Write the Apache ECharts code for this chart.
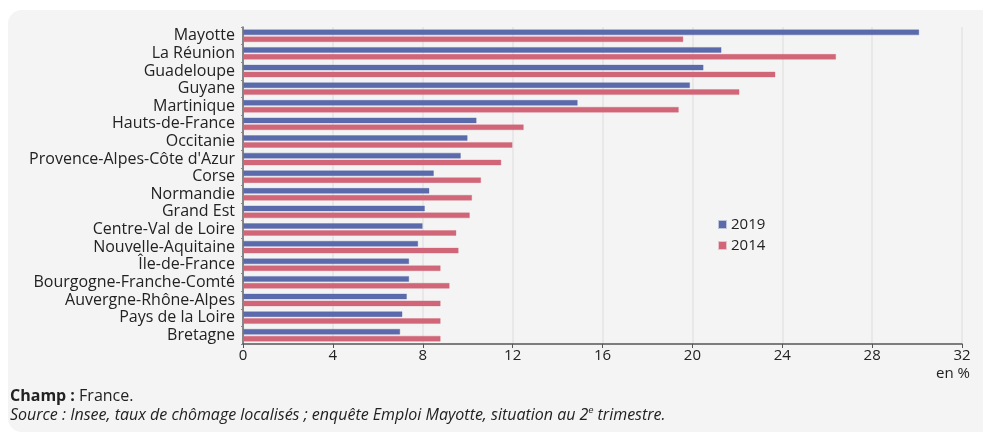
<!DOCTYPE html>
<html>
<head>
<meta charset="utf-8">
<script src="https://cdn.jsdelivr.net/npm/echarts@6/dist/echarts.min.js"></script>
<style>
  html, body { margin: 0; padding: 0; background: #fff; }
  #chart { width: 983px; height: 436px; }
</style>
</head>
<body>
<div id="chart"></div>
<script>
  const regions = [
    'Mayotte', 'La Réunion', 'Guadeloupe', 'Guyane', 'Martinique',
    'Hauts-de-France', 'Occitanie', "Provence-Alpes-Côte d'Azur", 'Corse',
    'Normandie', 'Grand Est', 'Centre-Val de Loire', 'Nouvelle-Aquitaine',
    'Île-de-France', 'Bourgogne-Franche-Comté', 'Auvergne-Rhône-Alpes',
    'Pays de la Loire', 'Bretagne'
  ];
  const rate2019 = [30.1, 21.3, 20.5, 19.9, 14.9, 10.4, 10.0, 9.7, 8.5, 8.3, 8.1, 8.0, 7.8, 7.4, 7.4, 7.3, 7.1, 7.0];
  const rate2014 = [19.6, 26.4, 23.7, 22.1, 19.4, 12.5, 12.0, 11.5, 10.6, 10.2, 10.1, 9.5, 9.6, 8.8, 9.2, 8.8, 8.8, 8.8];

  const font = '"Open Sans", "Noto Sans", sans-serif';
  const chart = echarts.init(document.getElementById('chart'));

  chart.setOption({
    animation: false,
    textStyle: { fontFamily: font },
    graphic: [
      {
        type: 'rect',
        z: -10,
        shape: { x: 8, y: 10, width: 990, height: 422, r: 14 },
        style: { fill: '#f4f4f4' }
      },
      {
        type: 'text',
        left: 10,
        top: 388,
        style: {
          text: '{b|Champ :} France.',
          font: '16px ' + font,
          fill: '#222',
          rich: { b: { fontWeight: 'bold', fontSize: 16, fontFamily: font } }
        }
      },
      {
        type: 'text',
        left: 10,
        top: 406,
        style: {
          text: 'Source : Insee, taux de chômage localisés ; enquête Emploi Mayotte, situation au 2{s|e} trimestre.',
          font: 'italic 16px ' + font,
          fill: '#222',
          lineHeight: 19,
          rich: { s: { fontSize: 9, fontStyle: 'italic', verticalAlign: 'top', lineHeight: 19 } }
        }
      }
    ],
    legend: {
      orient: 'vertical',
      left: 713,
      top: 212,
      itemWidth: 7,
      itemHeight: 7,
      itemGap: 6,
      icon: 'rect',
      textStyle: { fontSize: 15, color: '#222', fontFamily: font },
      data: ['2019', '2014']
    },
    grid: { left: 243, right: 21, top: 27, bottom: 92, containLabel: false },
    xAxis: {
      type: 'value',
      min: 0,
      max: 32,
      interval: 4,
      name: 'en %',
      nameLocation: 'end',
      nameGap: 0,
      nameTextStyle: {
        fontSize: 15, color: '#222', align: 'right',
        verticalAlign: 'top', padding: [22, -8, 0, 0]
      },
      axisLine: { show: true, lineStyle: { color: '#555', width: 1.5 } },
      axisTick: { show: true, length: 4, lineStyle: { color: '#555' } },
      axisLabel: { fontSize: 15, color: '#222', margin: 4 },
      splitLine: { show: true, lineStyle: { color: '#e4e4e4', width: 1.5 } }
    },
    yAxis: {
      type: 'category',
      inverse: true,
      data: regions,
      axisLine: { show: true, lineStyle: { color: '#666', width: 1.5 } },
      axisTick: { show: true, length: 2, lineStyle: { color: '#888' } },
      axisLabel: { interval: 0, fontSize: 16, color: '#222', margin: 8, lineHeight: 16, padding: [0, 0, 2, 0] }
    },
    series: [
      {
        name: '2019',
        type: 'bar',
        data: rate2019,
        barWidth: 6,
        barGap: '15%',
        itemStyle: { color: '#5a6aab', borderColor: 'rgba(90,106,171,0.35)', borderWidth: 1 }
      },
      {
        name: '2014',
        type: 'bar',
        data: rate2014,
        barWidth: 6,
        itemStyle: { color: '#d06678', borderColor: 'rgba(208,102,120,0.35)', borderWidth: 1 }
      }
    ]
  });
</script>
</body>
</html>
